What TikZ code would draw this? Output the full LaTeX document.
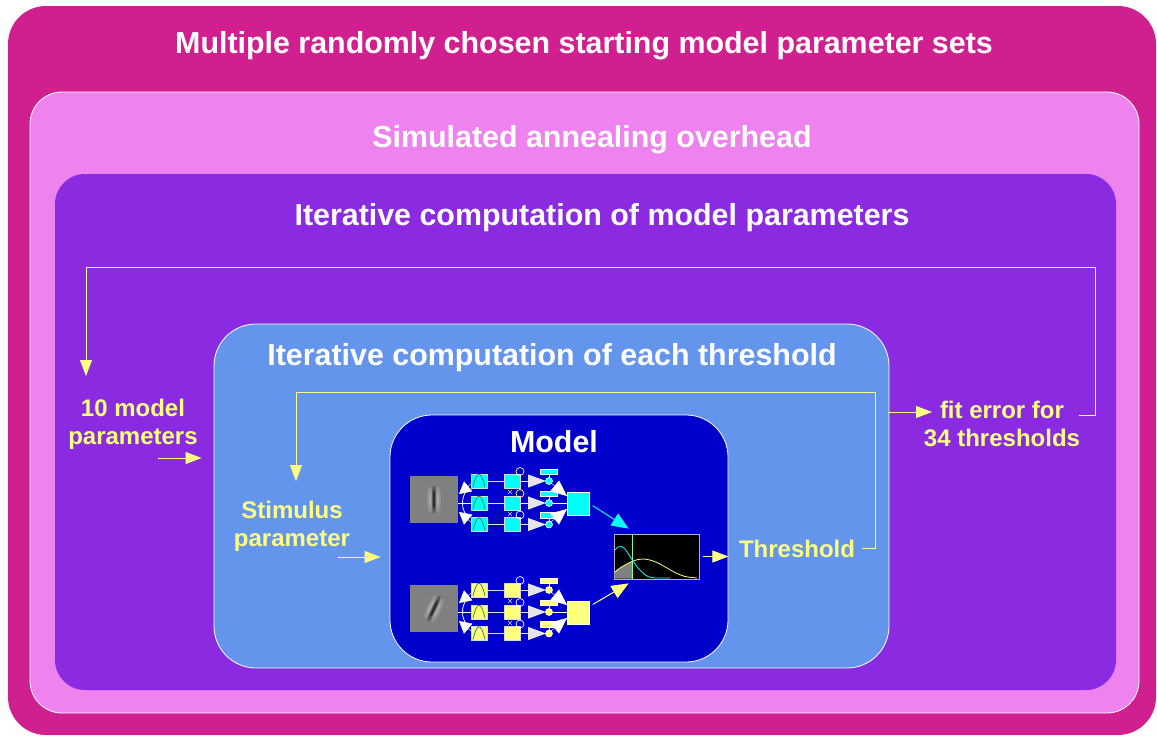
\documentclass[tikz,border=0pt]{standalone}
\usepackage{fontspec}
\setmainfont{Liberation Sans}
\usetikzlibrary{arrows.meta}
\definecolor{MyMagenta}{HTML}{D02090}
\definecolor{MyPink}{HTML}{EE82EE}
\definecolor{MyPurple}{HTML}{8A2BE2}
\definecolor{MyBlue}{HTML}{6495ED}
\definecolor{MyNavy}{HTML}{0000CD}
\definecolor{MyYellow}{HTML}{FFFF80}
\definecolor{MyCyan}{HTML}{00FFFF}
\definecolor{MyGreen}{HTML}{2E8B57}
\definecolor{MyLime}{HTML}{80FF80}

\tikzset{
  panel/.style={rounded corners=#1, inner sep=0pt, draw=white, line width=0.8pt},
  boxtitle/.style={white, font=\fontsize{30.4}{36}\selectfont\bfseries, anchor=base},
  yelltext/.style={MyYellow, font=\fontsize{24}{28}\selectfont\bfseries, align=center},
  flow/.style={MyYellow, line width=0.9pt, -{Triangle[length=16pt,width=12pt]}},
  cell/.style={fill=#1, draw=white!70!gray, line width=0.6pt},
}

% one channel of the model: patch, filters, gains, pooling
\newcommand{\channel}[4]{%
  \begin{scope}[shift={(0,#1)}]
    \fill[gray] (410,476) rectangle (458,523);
    \begin{scope}[shift={(434,499.5)}, rotate=#3]
      \fill[white, opacity=0.15] (-4,0) ellipse (3pt and 13pt);
      \fill[white, opacity=0.2] (-3.5,0) ellipse (1.5pt and 8pt);
      \fill[white, opacity=0.15] (4,0) ellipse (3pt and 13pt);
      \fill[white, opacity=0.2] (3.5,0) ellipse (1.5pt and 8pt);
      \fill[black, opacity=0.3] (0,0) ellipse (2.5pt and 14pt);
      \fill[black, opacity=0.5] (0,0) ellipse (1.2pt and 9pt);
    \end{scope}
    \draw[white, line width=1pt] (458,503) -- (471,503);
    \draw[white, line width=0.8pt] (467,490) .. controls (461,497) and (461,509) .. (467,516);
    \draw[white, -{Triangle[length=12pt,width=13pt]}] (471,484) -- (459,494);
    \draw[white, -{Triangle[length=12pt,width=13pt]}] (471,522) -- (459,512);
    \foreach \row in {481,503,524.5} {
      \draw[white!75!gray, line width=0.8pt] (487,\row) -- (504,\row);
      \draw[cell=#2] (471,\row-7) rectangle (487,\row+7);
      \draw[MyGreen, line width=0.8pt] (473,\row+6) .. controls (477,\row-11) and (481,\row-11) .. (485,\row+6);
      \draw[cell=#2] (504,\row-7) rectangle (520,\row+7);
      \draw[white, line width=0.7pt] (520,\row-9.5) circle (4pt);
      \draw[white!80!gray, line width=1pt, -{Triangle[length=18pt,width=13pt]}] (520,\row) -- (546,\row);
      \draw[white] (549,\row-6.5) -- (549,\row);
      \draw[cell=#2, draw=white] (540,\row-12) rectangle (557,\row-6.5);
      \draw[cell=#2, draw=white] (549,\row) circle (3.5pt);
    }
    \foreach \row in {492,514}
      \draw[white!70!gray, line width=0.5pt] (508,\row-2) -- (512,\row+2) (512,\row-2) -- (508,\row+2);
    \draw[white, line width=1pt] (552,503) -- (567,503);
    \draw[white, -{Triangle[length=16pt,width=14pt]}] (551,483) -- (567,496);
    \draw[white, -{Triangle[length=16pt,width=14pt]}] (551,522) -- (567,509);
    \node[cell=#2, draw=white, inner sep=0pt, minimum width=22pt, minimum height=23pt] (#4) at (578,503.5) {};
  \end{scope}}

\begin{document}
\begin{tikzpicture}[x=1pt, y=-1pt]
  \fill[white] (0,0) rectangle (1157,736);
  \useasboundingbox (0,0) rectangle (1157,736);

  % nested loops, outermost first
  \node[panel=38pt, draw=none, fill=MyMagenta, minimum width=1148pt, minimum height=729pt] (starts) at (582,370.5) {};
  \node[panel=32pt, fill=MyPink, minimum width=1109pt, minimum height=621pt] (anneal) at (584.5,402.5) {};
  \node[panel=30pt, draw=none, fill=MyPurple, minimum width=1061pt, minimum height=516pt] (paramloop) at (585.5,432) {};
  \node[panel=42pt, fill=MyBlue, minimum width=675pt, minimum height=344pt] (threshloop) at (551.5,496) {};
  \node[panel=42pt, fill=MyNavy, minimum width=338pt, minimum height=247pt] (model) at (559,538.5) {};

  \node[boxtitle] (ttlstarts) at (584,53) {Multiple randomly chosen starting model parameter sets};
  \node[boxtitle] (ttlanneal) at (592,147) {Simulated annealing overhead};
  \node[boxtitle] (ttlparam) at (602,225) {Iterative computation of model parameters};
  \node[boxtitle] (ttlthresh) at (552,365) {Iterative computation of each threshold};
  \node[boxtitle] (ttlmodel) at (554,452) {Model};

  % the two channels
  \channel{0}{MyCyan}{0}{cyansum}
  \channel{109}{MyYellow}{-25}{yellowsum}

  % psychometric read-out
  \node[fill=black, draw=gray!60, line width=0.8pt, inner sep=0pt, minimum width=85pt, minimum height=45pt] (psy) at (656.5,556.5) {};
  \fill[gray] (614.5,578.5) -- plot[smooth] coordinates {(614.5,572) (620,568) (626,564.5) (632,561.5)} -- (632,578.5) -- cycle;
  \draw[MyLime, line width=0.8pt] (632,534.5) -- (632,578.5);
  \draw[MyYellow, line width=0.8pt] plot[smooth] coordinates {(615,572) (620,568) (626,564.5) (632,561.5) (638,559.5) (643,559) (650,560) (658,563) (667,568) (676,573) (685,576.5) (697,578)};
  \draw[MyCyan, line width=0.8pt] plot[smooth] coordinates {(615,550) (618,547) (621,546.5) (625,549) (629,555) (633,561) (638,568) (643,573) (648,576.5) (655,578) (670,578)};
  \draw[MyCyan, line width=1pt, shorten <=4pt, -{Triangle[length=17pt,width=14pt]}] (cyansum.east) -- ([xshift=15pt,yshift=5pt]psy.north west);
  \draw[MyYellow, line width=1pt, shorten <=4pt, -{Triangle[length=17pt,width=14pt]}] ([yshift=6pt]yellowsum.east) -- ([xshift=15pt,yshift=-4pt]psy.south west);

  % labels
  \node[yelltext] (params) at (133,424) {10 model\\parameters};
  \node[yelltext] (stim) at (292,526) {Stimulus\\parameter};
  \node[yelltext] (fiterr) at (1002,424) {fit error for\\34 thresholds};
  \node[yelltext, anchor=base] (thresh) at (797,557) {Threshold};

  % feed-back and feed-forward
  \coordinate (parin) at (158,458);
  \coordinate (stimin) at (338,557);
  \coordinate (fitin) at (932,412);
  \coordinate (fitout) at (1079,415);
  \coordinate (partip) at (86,376);
  \coordinate (throut) at (862,548);
  \coordinate (stimtip) at (296,481);
  \draw[flow, shorten >=12pt] (parin) -- (parin -| threshloop.west);
  \draw[flow, shorten >=9pt] (stimin) -- (stimin -| model.west);
  \draw[flow, shorten <=4pt] (psy.east) -- (psy.east -| model.east);
  \draw[flow] (fitin -| threshloop.east) -- (fitin);
  \draw[flow] (fitout) -- ++(16,0) -- ++(0,-148) -| (partip);
  \draw[flow] (throut) -- ++(13,0) -- ++(0,-156) -| (stimtip);
\end{tikzpicture}
\end{document}
